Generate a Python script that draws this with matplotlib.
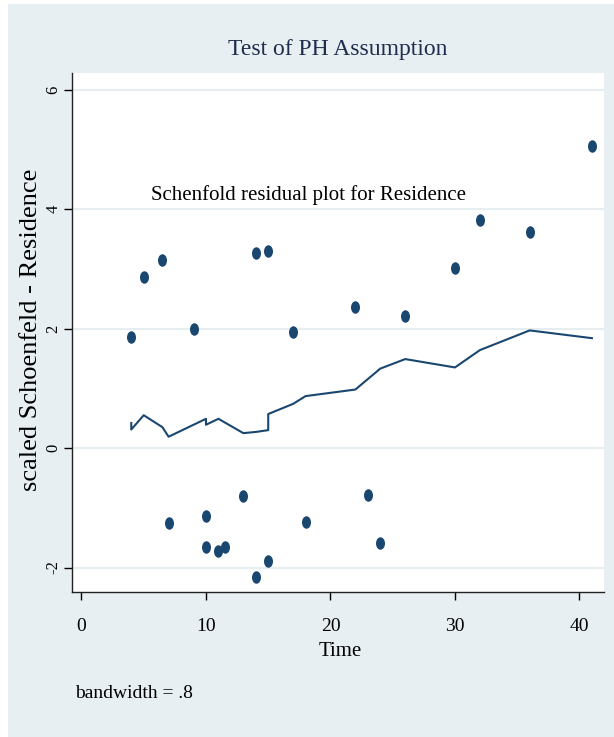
import matplotlib
matplotlib.use("Agg")
import matplotlib.pyplot as plt
from matplotlib.path import Path
from matplotlib.patches import Rectangle
from matplotlib.transforms import Affine2D

# scaled Schoenfeld residuals for Residence, by analysis time
time = [4, 5, 6.5, 7, 9, 10, 10, 11, 11.5, 13, 14, 14,
        15, 15, 17, 18, 22, 23, 24, 26, 30, 32, 36, 41]
resid = [1.86, 2.86, 3.15, -1.26, 2.00, -1.14, -1.66, -1.72, -1.66, -0.80, 3.26, -2.16,
         3.30, -1.89, 1.94, -1.24, 2.36, -0.79, -1.59, 2.21, 3.01, 3.82, 3.62, 5.05]

# lowess smooth (bandwidth .8)
smooth_t = [4, 4, 5, 6.5, 7, 10, 10, 11, 13, 14, 15, 15, 17, 18, 22, 24, 26, 30, 32, 36, 41]
smooth_r = [0.42, 0.31, 0.55, 0.35, 0.19, 0.49, 0.39, 0.49, 0.25, 0.27, 0.30, 0.57,
            0.74, 0.87, 0.98, 1.33, 1.49, 1.35, 1.64, 1.97, 1.84]

x_ticks = [0, 10, 20, 30, 40]
y_ticks = [-2, 0, 2, 4, 6]

navy = "#1a476f"
bg = "#e8eff2"
grid_col = "#e6eef1"

plt.rcParams['font.family'] = ['Liberation Serif', 'DejaVu Serif']

W, H = 614, 737
fig = plt.figure(figsize=(W / 100, H / 100), dpi=100, facecolor='white')
fig.patches.append(Rectangle((8 / W, 0), 1, 1 - 4 / H, transform=fig.transFigure,
                             facecolor=bg, edgecolor='none', zorder=-1))

ax = fig.add_axes([72 / W, 1 - 592 / H, (604 - 72) / W, (592 - 73) / H])
ax.set_facecolor('white')

# slightly tall dots
dot = Path.unit_circle().transformed(Affine2D().scale(0.72, 1.0))

ax.plot(time, resid, linestyle='none', marker=dot, markersize=9,
        color=navy, markeredgewidth=0, zorder=3)
ax.plot(smooth_t, smooth_r, color=navy, linewidth=1.5, zorder=2)

ax.set_xlim(-0.76, 41.97)
ax.set_ylim(-2.41, 6.28)
ax.set_xticks(x_ticks)
ax.set_yticks(y_ticks)
ax.set_yticklabels([str(v) for v in y_ticks])

for s in ['top', 'right']:
    ax.spines[s].set_visible(False)
for s in ['left', 'bottom']:
    ax.spines[s].set_linewidth(1.0)
    ax.spines[s].set_color('#222222')

ax.yaxis.grid(True, color=grid_col, linewidth=1.6)
ax.set_axisbelow(True)

ax.tick_params(axis='x', length=6, width=1.0, pad=13, labelsize=14)
ax.tick_params(axis='y', length=6, width=1.0, pad=1.5, labelsize=12, labelrotation=90)
for lbl in ax.get_yticklabels():
    lbl.set_va('center')

ax.set_xlabel('Time', fontsize=15)
ax.xaxis.label.set_va('center')
ax.xaxis.set_label_coords((340 - 72) / 532, (592 - 651) / 519)
ax.set_ylabel('scaled Schoenfeld - Residence', fontsize=19)
ax.yaxis.label.set_va('center')
ax.yaxis.set_label_coords((31 - 72) / 532, (592 - 330) / 519)

ax.text(5.6, 4.23, 'Schenfold residual plot for Residence', fontsize=15, va='center')

fig.text(338 / W, 1 - 50 / H, 'Test of PH Assumption', fontsize=17,
         color='#1f2d4e', ha='center', va='center')
fig.text(75 / W, 1 - 694 / H, 'bandwidth = .8', fontsize=14, ha='left', va='center')

fig.savefig('out.png', dpi=100, facecolor=fig.get_facecolor())
